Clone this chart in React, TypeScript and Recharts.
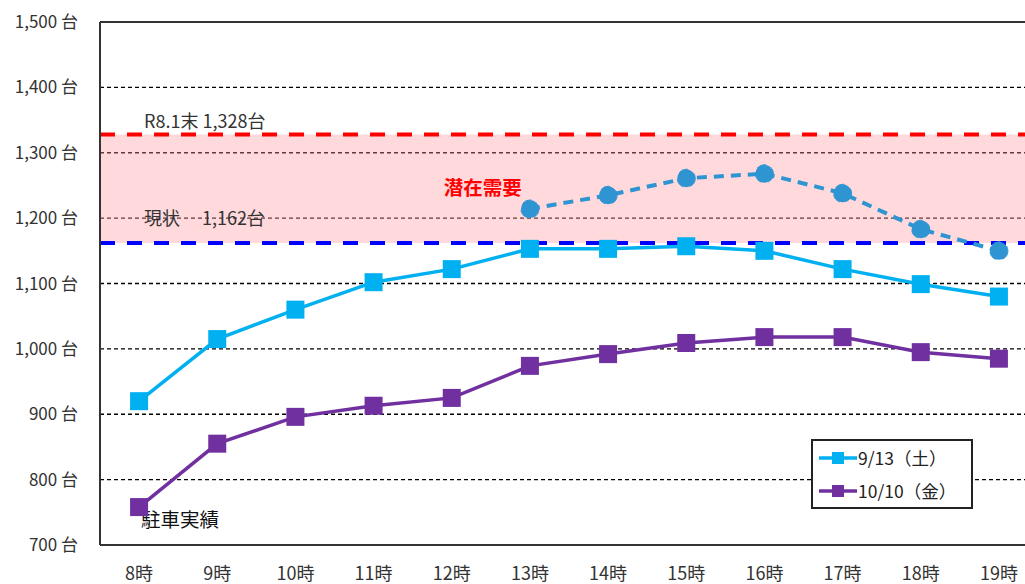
import {
    ComposedChart, Line, XAxis, YAxis, CartesianGrid, ReferenceLine, ReferenceArea, ReferenceDot
} from 'recharts';

const hours = ['8時', '9時', '10時', '11時', '12時', '13時', '14時', '15時', '16時', '17時', '18時', '19時'];
const sat0913 = [920, 1015, 1060, 1102, 1122, 1153, 1153, 1157, 1150, 1122, 1099, 1080];
const fri1010 = [758, 855, 896, 913, 925, 974, 992, 1009, 1018, 1018, 995, 985];
const potential = [null, null, null, null, null, 1214, 1235, 1261, 1268, 1238, 1183, 1150];
const yTicks = [700, 800, 900, 1000, 1100, 1200, 1300, 1400, 1500];
const futureCap = 1328;
const currentCap = 1162;
const seriesNames = ['9/13（土）', '10/10（金）'];

const data = hours.map((h, i) => ({
    hour: h,
    sat: sat0913[i],
    fri: fri1010[i],
    pot: potential[i],
}));

const FONT = '"Noto Sans CJK JP", "Noto Sans", sans-serif';

const YTick = ({ x, y, payload }) => (
    <text x={x - 14} y={y + 6} textAnchor="end" fontSize={17} fill="#333" fontFamily={FONT}>
        {payload.value.toLocaleString('en-US')} 台
    </text>
);

const XTick = ({ x, y, payload }) => (
    <text x={x} y={y + 27} textAnchor="middle" fontSize={18} fill="#333" fontFamily={FONT}>
        {payload.value}
    </text>
);

const SquareDot = (color) => (props) => {
    const { cx, cy, index } = props;
    if (cx == null || cy == null) return <g key={index} />;
    return <rect key={index} x={cx - 9} y={cy - 9} width={18} height={18} fill={color} />;
};

const LegendBox = () => (
    <div style={{
        position: 'absolute', left: 811, top: 439,
        width: 158, height: 66, border: '2px solid #222', background: '#fff',
        fontFamily: FONT, fontSize: 17.5, color: '#222'
    }}>
        {[[seriesNames[0], '#00b0f0'], [seriesNames[1], '#7030a0']].map(([name, c], i) => (
            <div key={i} style={{ display: 'flex', alignItems: 'center', height: 33, paddingLeft: 6 }}>
                <svg width={38} height={14}>
                    <line x1={0} y1={7} x2={38} y2={7} stroke={c} strokeWidth={3.5} />
                    <rect x={13} y={1} width={12} height={12} fill={c} />
                </svg>
                <span style={{ marginLeft: 1 }}>{name}</span>
            </div>
        ))}
    </div>
);

const LineLabel = (text, dy) => ({ viewBox }) => (
    <text x={viewBox.x + 44} y={viewBox.y + dy} fontSize={18} fill="#333" fontFamily={FONT}>{text}</text>
);

const NoteLabel = (text, color, dx, bold) => ({ viewBox }) => (
    <text x={viewBox.x + dx} y={viewBox.y + 7} fontSize={19.5} fill={color} fontWeight={bold ? 700 : 400}
        textAnchor="middle" fontFamily={FONT}>{text}</text>
);

export default function App() {
    return (
        <div style={{ position: 'absolute', left: 0, top: 0, width: 1025, height: 584, overflow: 'hidden', background: '#fff' }}>
            <ComposedChart
                width={1040}
                height={584}
                data={data}
                margin={{ top: 22, right: 2, left: 0, bottom: 0 }}
            >
                <CartesianGrid vertical={false} stroke="#000" strokeDasharray="4 3" strokeWidth={1.3} />
                <ReferenceArea y1={currentCap} y2={futureCap} fill="#ff9aa3" fillOpacity={0.38} stroke="none" />
                <XAxis
                    dataKey="hour"
                    scale="band"
                    height={39}
                    axisLine={{ stroke: '#333', strokeWidth: 2 }}
                    tickLine={false}
                    tick={<XTick />}
                    interval={0}
                />
                <YAxis
                    width={100}
                    domain={[700, 1500]}
                    ticks={yTicks}
                    axisLine={{ stroke: '#333', strokeWidth: 2 }}
                    tickLine={false}
                    tick={<YTick />}
                    interval={0}
                />
                <ReferenceLine y={1500} stroke="#333" strokeWidth={2} />
                <ReferenceLine y={futureCap} stroke="#ff0000" strokeWidth={4} strokeDasharray="15 12"
                    label={LineLabel('R8.1末 1,328台', -6)} />
                <ReferenceLine y={currentCap} stroke="#0000ff" strokeWidth={4} strokeDasharray="15 12"
                    label={LineLabel('現状　 1,162台', -18)} />
                <ReferenceDot x="12時" y={1246} r={0} stroke="none" fill="none"
                    label={NoteLabel('潜在需要', '#ff0000', 31, true)} />
                <ReferenceDot x="8時" y={738} r={0} stroke="none" fill="none"
                    label={NoteLabel('駐車実績', '#111', 41, false)} />
                <Line
                    dataKey="pot"
                    stroke="#2f94d2"
                    strokeWidth={4}
                    strokeDasharray="10 7"
                    dot={{ r: 9, fill: '#2f94d2', stroke: '#2f94d2', strokeWidth: 1 }}
                    connectNulls={false}
                    isAnimationActive={false}
                />
                <Line
                    dataKey="sat"
                    name={seriesNames[0]}
                    stroke="#00b0f0"
                    strokeWidth={3.5}
                    dot={SquareDot('#00b0f0')}
                    isAnimationActive={false}
                />
                <Line
                    dataKey="fri"
                    name={seriesNames[1]}
                    stroke="#7030a0"
                    strokeWidth={3.5}
                    dot={SquareDot('#7030a0')}
                    isAnimationActive={false}
                />
            </ComposedChart>
            <LegendBox />
        </div>
    );
}
